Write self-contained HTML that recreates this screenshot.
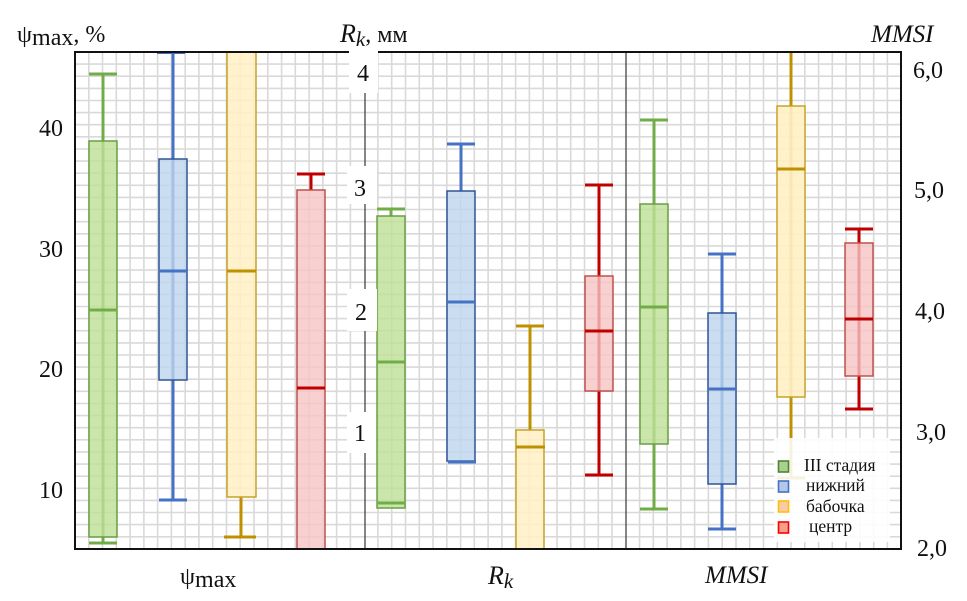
<!DOCTYPE html>
<html><head><meta charset="utf-8"><style>
html,body{margin:0;padding:0;background:#fff;}
svg{display:block;}
text{font-family:"Liberation Serif","DejaVu Serif",serif;fill:#111;}
</style></head><body>
<svg width="967" height="601" viewBox="0 0 967 601" xmlns="http://www.w3.org/2000/svg">
<rect width="967" height="601" fill="#fff"/>
<g id="grid" stroke="#d9d9d9" stroke-width="1.6">
<line x1="88.8" y1="52" x2="88.8" y2="549"/><line x1="102.5" y1="52" x2="102.5" y2="549"/><line x1="116.3" y1="52" x2="116.3" y2="549"/><line x1="130.1" y1="52" x2="130.1" y2="549"/><line x1="143.9" y1="52" x2="143.9" y2="549"/><line x1="157.6" y1="52" x2="157.6" y2="549"/><line x1="171.4" y1="52" x2="171.4" y2="549"/><line x1="185.2" y1="52" x2="185.2" y2="549"/><line x1="198.9" y1="52" x2="198.9" y2="549"/><line x1="212.7" y1="52" x2="212.7" y2="549"/><line x1="226.5" y1="52" x2="226.5" y2="549"/><line x1="240.2" y1="52" x2="240.2" y2="549"/><line x1="254" y1="52" x2="254" y2="549"/><line x1="267.8" y1="52" x2="267.8" y2="549"/><line x1="281.6" y1="52" x2="281.6" y2="549"/><line x1="295.3" y1="52" x2="295.3" y2="549"/><line x1="309.1" y1="52" x2="309.1" y2="549"/><line x1="322.9" y1="52" x2="322.9" y2="549"/><line x1="336.6" y1="52" x2="336.6" y2="549"/><line x1="350.4" y1="52" x2="350.4" y2="549"/><line x1="377.9" y1="52" x2="377.9" y2="549"/><line x1="391.7" y1="52" x2="391.7" y2="549"/><line x1="405.5" y1="52" x2="405.5" y2="549"/><line x1="419.3" y1="52" x2="419.3" y2="549"/><line x1="433" y1="52" x2="433" y2="549"/><line x1="446.8" y1="52" x2="446.8" y2="549"/><line x1="460.6" y1="52" x2="460.6" y2="549"/><line x1="474.3" y1="52" x2="474.3" y2="549"/><line x1="488.1" y1="52" x2="488.1" y2="549"/><line x1="501.9" y1="52" x2="501.9" y2="549"/><line x1="515.6" y1="52" x2="515.6" y2="549"/><line x1="529.4" y1="52" x2="529.4" y2="549"/><line x1="543.2" y1="52" x2="543.2" y2="549"/><line x1="557" y1="52" x2="557" y2="549"/><line x1="570.7" y1="52" x2="570.7" y2="549"/><line x1="584.5" y1="52" x2="584.5" y2="549"/><line x1="598.3" y1="52" x2="598.3" y2="549"/><line x1="612" y1="52" x2="612" y2="549"/><line x1="639.6" y1="52" x2="639.6" y2="549"/><line x1="653.3" y1="52" x2="653.3" y2="549"/><line x1="667.1" y1="52" x2="667.1" y2="549"/><line x1="680.9" y1="52" x2="680.9" y2="549"/><line x1="694.6" y1="52" x2="694.6" y2="549"/><line x1="708.4" y1="52" x2="708.4" y2="549"/><line x1="722.2" y1="52" x2="722.2" y2="549"/><line x1="736" y1="52" x2="736" y2="549"/><line x1="749.7" y1="52" x2="749.7" y2="549"/><line x1="763.5" y1="52" x2="763.5" y2="549"/><line x1="777.3" y1="52" x2="777.3" y2="549"/><line x1="791" y1="52" x2="791" y2="549"/><line x1="804.8" y1="52" x2="804.8" y2="549"/><line x1="818.6" y1="52" x2="818.6" y2="549"/><line x1="832.3" y1="52" x2="832.3" y2="549"/><line x1="846.1" y1="52" x2="846.1" y2="549"/><line x1="859.9" y1="52" x2="859.9" y2="549"/><line x1="873.7" y1="52" x2="873.7" y2="549"/><line x1="887.4" y1="52" x2="887.4" y2="549"/>
<line x1="75" y1="64.1" x2="901" y2="64.1"/><line x1="75" y1="76.2" x2="901" y2="76.2"/><line x1="75" y1="88.4" x2="901" y2="88.4"/><line x1="75" y1="100.5" x2="901" y2="100.5"/><line x1="75" y1="112.6" x2="901" y2="112.6"/><line x1="75" y1="124.7" x2="901" y2="124.7"/><line x1="75" y1="136.8" x2="901" y2="136.8"/><line x1="75" y1="149" x2="901" y2="149"/><line x1="75" y1="161.1" x2="901" y2="161.1"/><line x1="75" y1="173.2" x2="901" y2="173.2"/><line x1="75" y1="185.3" x2="901" y2="185.3"/><line x1="75" y1="197.4" x2="901" y2="197.4"/><line x1="75" y1="209.5" x2="901" y2="209.5"/><line x1="75" y1="221.7" x2="901" y2="221.7"/><line x1="75" y1="233.8" x2="901" y2="233.8"/><line x1="75" y1="245.9" x2="901" y2="245.9"/><line x1="75" y1="258" x2="901" y2="258"/><line x1="75" y1="270.1" x2="901" y2="270.1"/><line x1="75" y1="282.3" x2="901" y2="282.3"/><line x1="75" y1="294.4" x2="901" y2="294.4"/><line x1="75" y1="306.5" x2="901" y2="306.5"/><line x1="75" y1="318.6" x2="901" y2="318.6"/><line x1="75" y1="330.7" x2="901" y2="330.7"/><line x1="75" y1="342.9" x2="901" y2="342.9"/><line x1="75" y1="355" x2="901" y2="355"/><line x1="75" y1="367.1" x2="901" y2="367.1"/><line x1="75" y1="379.2" x2="901" y2="379.2"/><line x1="75" y1="391.3" x2="901" y2="391.3"/><line x1="75" y1="403.5" x2="901" y2="403.5"/><line x1="75" y1="415.6" x2="901" y2="415.6"/><line x1="75" y1="427.7" x2="901" y2="427.7"/><line x1="75" y1="439.8" x2="901" y2="439.8"/><line x1="75" y1="451.9" x2="901" y2="451.9"/><line x1="75" y1="464.1" x2="901" y2="464.1"/><line x1="75" y1="476.2" x2="901" y2="476.2"/><line x1="75" y1="488.3" x2="901" y2="488.3"/><line x1="75" y1="500.4" x2="901" y2="500.4"/><line x1="75" y1="512.5" x2="901" y2="512.5"/><line x1="75" y1="524.6" x2="901" y2="524.6"/><line x1="75" y1="536.8" x2="901" y2="536.8"/>
</g>

<!-- Group 1 psi_max -->
<line x1="103" y1="74" x2="103" y2="543" stroke="#70ad47" stroke-width="3"/>
<rect x="89" y="141" width="28" height="396" fill="rgb(190,224,150)" fill-opacity="0.8" stroke="#6a9f45" stroke-width="1.5"/>
<line x1="89" y1="74" x2="117" y2="74" stroke="#70ad47" stroke-width="3"/>
<line x1="89" y1="310" x2="117" y2="310" stroke="#70ad47" stroke-width="3"/>
<line x1="89" y1="543" x2="117" y2="543" stroke="#70ad47" stroke-width="3"/>

<line x1="173" y1="52" x2="173" y2="500" stroke="#4472c4" stroke-width="3"/>
<rect x="159" y="159" width="28" height="221" fill="rgb(190,214,238)" fill-opacity="0.8" stroke="#2f5597" stroke-width="1.5"/>
<line x1="157" y1="52.5" x2="185" y2="52.5" stroke="#4472c4" stroke-width="3"/>
<line x1="159" y1="271" x2="187" y2="271" stroke="#4472c4" stroke-width="3"/>
<line x1="159" y1="500" x2="187" y2="500" stroke="#4472c4" stroke-width="3"/>

<line x1="241" y1="497" x2="241" y2="537" stroke="#bf9000" stroke-width="3"/>
<rect x="227" y="52" width="29" height="445" fill="rgb(255,240,196)" fill-opacity="0.85" stroke="#c9a227" stroke-width="1.5"/>
<line x1="227" y1="271" x2="256" y2="271" stroke="#bf9000" stroke-width="3"/>
<line x1="224" y1="537" x2="256" y2="537" stroke="#bf9000" stroke-width="3"/>

<line x1="311" y1="174" x2="311" y2="190" stroke="#c00000" stroke-width="3"/>
<rect x="297" y="190" width="28" height="359" fill="rgb(247,196,196)" fill-opacity="0.8" stroke="#c0504d" stroke-width="1.5"/>
<line x1="297" y1="174" x2="325" y2="174" stroke="#c00000" stroke-width="3"/>
<line x1="297" y1="388" x2="325" y2="388" stroke="#c00000" stroke-width="3"/>

<!-- Group 2 Rk -->
<line x1="391" y1="209" x2="391" y2="216" stroke="#70ad47" stroke-width="3"/>
<rect x="377" y="216" width="28" height="292" fill="rgb(190,224,150)" fill-opacity="0.8" stroke="#6a9f45" stroke-width="1.5"/>
<line x1="377" y1="209" x2="405" y2="209" stroke="#70ad47" stroke-width="3"/>
<line x1="377" y1="362" x2="405" y2="362" stroke="#70ad47" stroke-width="3"/>
<line x1="377" y1="503" x2="405" y2="503" stroke="#70ad47" stroke-width="3"/>

<line x1="461" y1="144" x2="461" y2="191" stroke="#4472c4" stroke-width="3"/>
<rect x="447" y="191" width="28" height="270" fill="rgb(190,214,238)" fill-opacity="0.8" stroke="#2f5597" stroke-width="1.5"/>
<line x1="447" y1="144" x2="475" y2="144" stroke="#4472c4" stroke-width="3"/>
<line x1="447" y1="302" x2="475" y2="302" stroke="#4472c4" stroke-width="3"/>
<line x1="448" y1="462" x2="476" y2="462" stroke="#4472c4" stroke-width="3"/>

<line x1="530" y1="326" x2="530" y2="430" stroke="#bf9000" stroke-width="3"/>
<rect x="516" y="430" width="28" height="119" fill="rgb(255,240,196)" fill-opacity="0.85" stroke="#c9a227" stroke-width="1.5"/>
<line x1="516" y1="326" x2="544" y2="326" stroke="#bf9000" stroke-width="3"/>
<line x1="516" y1="447" x2="545" y2="447" stroke="#bf9000" stroke-width="3"/>

<line x1="599" y1="185" x2="599" y2="475" stroke="#c00000" stroke-width="3"/>
<rect x="585" y="276" width="28" height="115" fill="rgb(247,196,196)" fill-opacity="0.8" stroke="#c0504d" stroke-width="1.5"/>
<line x1="585" y1="185" x2="613" y2="185" stroke="#c00000" stroke-width="3"/>
<line x1="585" y1="331" x2="613" y2="331" stroke="#c00000" stroke-width="3"/>
<line x1="585" y1="475" x2="613" y2="475" stroke="#c00000" stroke-width="3"/>

<!-- Group 3 MMSI -->
<line x1="654" y1="120" x2="654" y2="509" stroke="#70ad47" stroke-width="3"/>
<rect x="640" y="204" width="28" height="240" fill="rgb(190,224,150)" fill-opacity="0.8" stroke="#6a9f45" stroke-width="1.5"/>
<line x1="640" y1="120" x2="668" y2="120" stroke="#70ad47" stroke-width="3"/>
<line x1="640" y1="307" x2="668" y2="307" stroke="#70ad47" stroke-width="3"/>
<line x1="640" y1="509" x2="668" y2="509" stroke="#70ad47" stroke-width="3"/>

<line x1="722" y1="254" x2="722" y2="529" stroke="#4472c4" stroke-width="3"/>
<rect x="708" y="313" width="28" height="171" fill="rgb(190,214,238)" fill-opacity="0.8" stroke="#2f5597" stroke-width="1.5"/>
<line x1="708" y1="254" x2="736" y2="254" stroke="#4472c4" stroke-width="3"/>
<line x1="708" y1="389" x2="736" y2="389" stroke="#4472c4" stroke-width="3"/>
<line x1="708" y1="529" x2="736" y2="529" stroke="#4472c4" stroke-width="3"/>

<line x1="791" y1="52" x2="791" y2="478" stroke="#bf9000" stroke-width="3"/>
<rect x="777" y="106" width="28" height="291" fill="rgb(255,240,196)" fill-opacity="0.9" stroke="#c9a227" stroke-width="1.5"/>
<line x1="777" y1="169" x2="805" y2="169" stroke="#bf9000" stroke-width="3"/>
<line x1="777" y1="478" x2="805" y2="478" stroke="#bf9000" stroke-width="3"/>

<line x1="859" y1="229" x2="859" y2="409" stroke="#c00000" stroke-width="3"/>
<rect x="845" y="243" width="28" height="133" fill="rgb(247,196,196)" fill-opacity="0.8" stroke="#c0504d" stroke-width="1.5"/>
<line x1="845" y1="229" x2="873" y2="229" stroke="#c00000" stroke-width="3"/>
<line x1="845" y1="319" x2="873" y2="319" stroke="#c00000" stroke-width="3"/>
<line x1="845" y1="409" x2="873" y2="409" stroke="#c00000" stroke-width="3"/>

<!-- legend -->
<rect x="774" y="438" width="116" height="104" fill="#fff" fill-opacity="0.88"/>
<rect x="778.5" y="461" width="10" height="11" fill="#a9d18e" stroke="#548235" stroke-width="1.6"/>
<rect x="778.5" y="481" width="10" height="11" fill="#b4c7e7" stroke="#4472c4" stroke-width="1.6"/>
<rect x="778.5" y="501" width="10" height="11" fill="#f8cbad" stroke="#ffc000" stroke-width="1.6"/>
<rect x="778.5" y="522" width="10" height="11" fill="#f4a08a" stroke="#ff0000" stroke-width="1.6"/>
<text x="804" y="471" font-size="17.5">III стадия</text>
<text x="806" y="491" font-size="17.5">нижний</text>
<text x="806" y="512" font-size="17.5">бабочка</text>
<text x="809" y="532" font-size="17.5">центр</text>

<!-- axes -->
<line x1="365" y1="52" x2="365" y2="549" stroke="#444" stroke-width="1.3"/>
<line x1="626" y1="52" x2="626" y2="549" stroke="#444" stroke-width="1.3"/>
<rect x="75" y="52" width="826" height="497" fill="none" stroke="#111" stroke-width="2"/>

<!-- Rk tick labels with white boxes -->
<rect x="349" y="47" width="29" height="46" fill="#fff"/>
<rect x="347" y="166" width="30" height="38" fill="#fff"/>
<rect x="347" y="289" width="30" height="42" fill="#fff"/>
<rect x="347" y="412" width="29" height="41" fill="#fff"/>
<text x="363" y="81" font-size="24" text-anchor="middle">4</text>
<text x="360" y="196" font-size="24" text-anchor="middle">3</text>
<text x="361" y="320" font-size="24" text-anchor="middle">2</text>
<text x="360" y="441" font-size="24" text-anchor="middle">1</text>

<!-- left tick labels -->
<text x="63" y="136" font-size="24" text-anchor="end">40</text>
<text x="63" y="257" font-size="24" text-anchor="end">30</text>
<text x="63" y="377" font-size="24" text-anchor="end">20</text>
<text x="63" y="498" font-size="24" text-anchor="end">10</text>

<!-- right tick labels -->
<text x="913" y="78" font-size="24">6,0</text>
<text x="914" y="198" font-size="24">5,0</text>
<text x="915" y="319" font-size="24">4,0</text>
<text x="916" y="440" font-size="24">3,0</text>
<text x="917" y="556" font-size="24">2,0</text>

<!-- axis titles -->
<text x="17" y="42" font-size="24">ψ<tspan dy="3">max</tspan><tspan dy="-3">, %</tspan></text>
<text x="340" y="42" font-size="26" font-style="italic">R<tspan font-size="21" dy="4">k</tspan><tspan dy="-4" font-size="24" font-style="normal">, мм</tspan></text>
<text x="871" y="42" font-size="25" font-style="italic">MMSI</text>

<text x="180" y="584" font-size="24">ψ<tspan dy="3">max</tspan></text>
<text x="488" y="584" font-size="26" font-style="italic">R<tspan font-size="21" dy="4">k</tspan></text>
<text x="705" y="583" font-size="25" font-style="italic">MMSI</text>
</svg>
</body></html>
